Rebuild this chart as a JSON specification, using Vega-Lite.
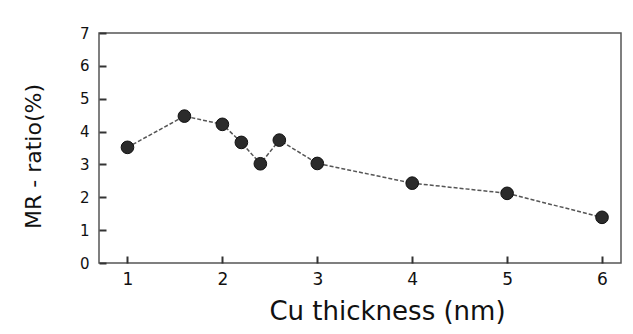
{
  "$schema": "https://vega.github.io/schema/vega-lite/v6.json",
  "autosize": "none",
  "padding": {"left": 99, "top": 33, "right": 12, "bottom": 71},
  "width": 522,
  "height": 230,
  "background": "white",
  "config": {
    "view": {"stroke": "#555", "strokeWidth": 1.5},
    "axis": {"domain": false, "grid": false, "ticks": true, "tickColor": "#333", "tickWidth": 2, "labelFont": "DejaVu Sans", "titleFont": "DejaVu Sans", "labelColor": "#111", "titleColor": "#111", "titleFontWeight": "normal"}
  },
  "data": {
    "values": [
      {"t": 1.0, "mr": 3.52},
      {"t": 1.6, "mr": 4.47},
      {"t": 2.0, "mr": 4.22},
      {"t": 2.2, "mr": 3.67},
      {"t": 2.4, "mr": 3.02},
      {"t": 2.6, "mr": 3.74},
      {"t": 3.0, "mr": 3.03},
      {"t": 4.0, "mr": 2.43},
      {"t": 5.0, "mr": 2.12},
      {"t": 6.0, "mr": 1.39}
    ]
  },
  "encoding": {
    "x": {"field": "t", "type": "quantitative", "scale": {"domain": [0.7, 6.2], "nice": false, "zero": false},
      "axis": {"orient": "bottom", "values": [1, 2, 3, 4, 5, 6], "tickSize": -7, "labelPadding": 15, "labelFontSize": 17,
        "title": "Cu thickness  (nm)", "titleFontSize": 26, "titleX": 288, "titleY": 56, "titleBaseline": "alphabetic"}},
    "y": {"field": "mr", "type": "quantitative", "scale": {"domain": [0, 7], "nice": false},
      "axis": {"orient": "left", "values": [0, 1, 2, 3, 4, 5, 6, 7], "tickSize": -7, "labelPadding": 17, "labelFontSize": 15,
        "title": "MR - ratio(%)", "titleFontSize": 22, "titleX": -54, "titleY": 123, "titleBaseline": "bottom"}}
  },
  "layer": [
    {
      "mark": {"type": "line", "color": "#555", "strokeWidth": 1.5, "strokeDash": [4, 2]}
    },
    {
      "mark": {"type": "point", "filled": true, "shape": "circle", "size": 160, "fill": "#2b2b2b", "stroke": "#111", "strokeWidth": 1, "opacity": 1}
    }
  ]
}
